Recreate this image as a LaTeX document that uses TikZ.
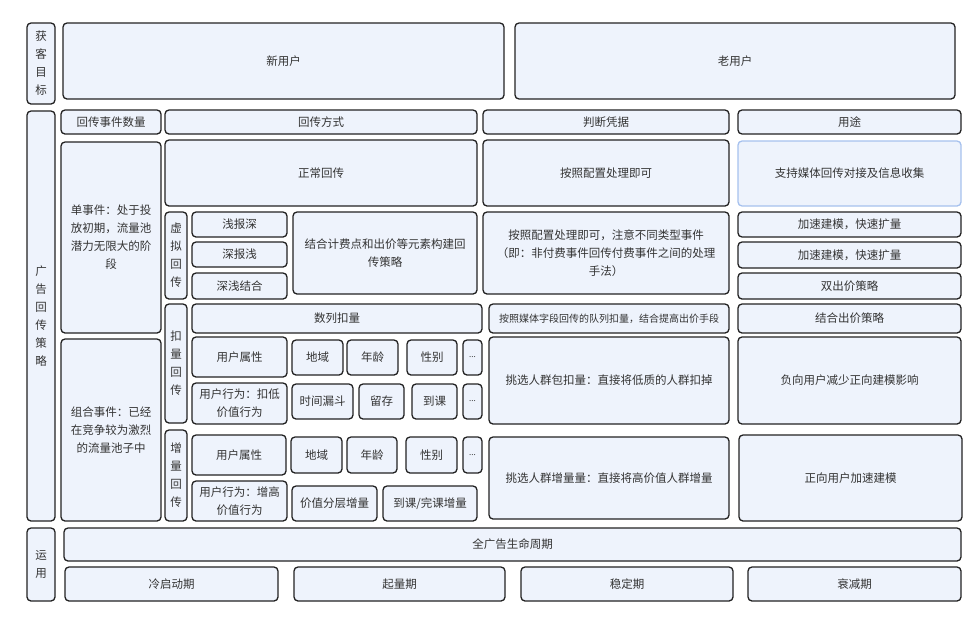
\documentclass[tikz,border=0pt]{standalone}
\usepackage{fontspec}
\setmainfont{Noto Sans CJK SC}
\usepackage{tikz}
\definecolor{adInk}{HTML}{222222}
\definecolor{adFill}{HTML}{EEF3FC}
\definecolor{adText}{HTML}{333333}
\definecolor{adBlue}{HTML}{A6C1EE}
\tikzset{
  every picture/.style={font=\fontsize{11.5}{18}\selectfont, text=adText},
  ad box/.style={draw=adInk, line width=1.3pt, rounded corners=4pt,
    fill=adFill, align=center, inner sep=1pt},
  ad soft/.style={draw=adBlue},
  ad small/.style={font=\fontsize{10}{14}\selectfont},
  ad dots/.style={font=\fontsize{8}{10}\selectfont}
}
% box from (x1,y1) to (x2,y2), in pixels of the page
\newcommand\adcell[7][]{%
  \node[ad box,#1,minimum width={(#5-#3)*1pt},minimum height={(#6-#4)*1pt}]
    (#2) at ({(#3+#5)/2},{(#4+#6)/2}) {#7};}

\begin{document}
\begin{tikzpicture}[x=1pt,y=-1pt]
  \useasboundingbox (0,0) rectangle (975,622);
  % goal
  \adcell{goal}{27}{23}{55}{104}{获\\客\\目\\标}
  \adcell{newuser}{63}{23}{504}{99}{新用户}
  \adcell{olduser}{515}{23}{955}{99}{老用户}
  % strategy
  \adcell{strat}{27}{111}{55}{521}{广\\告\\回\\传\\策\\略}
  \adcell{hcount}{61}{110}{161}{134}{回传事件数量}
  \adcell{hmode}{165}{110}{477}{134}{回传方式}
  \adcell{hbasis}{483}{110}{729}{134}{判断凭据}
  \adcell{huse}{738}{110}{961}{134}{用途}
  \adcell{single}{61}{142}{161}{333}{单事件：处于投\\放初期，流量池\\潜力无限大的阶\\段}
  \adcell{combo}{61}{339}{161}{521}{组合事件：已经\\在竞争较为激烈\\的流量池子中}
  \adcell{normal}{165}{140}{477}{206}{正常回传}
  \adcell{basisA}{483}{140}{729}{206}{按照配置处理即可}
  \adcell[ad soft]{useA}{738}{141}{961}{206}{支持媒体回传对接及信息收集}
  % virtual
  \adcell{virt}{165}{212}{187}{299}{虚\\拟\\回\\传}
  \adcell{virtA}{192}{212}{287}{237}{浅报深}
  \adcell{virtB}{192}{242}{287}{267}{深报浅}
  \adcell{virtC}{192}{273}{287}{299}{深浅结合}
  \adcell{virtplan}{293}{212}{477}{294}{结合计费点和出价等元素构建回\\传策略}
  \adcell{basisB}{483}{212}{729}{294}{按照配置处理即可，注意不同类型事件\\（即：非付费事件回传付费事件之间的处理\\手法）}
  \adcell{useB}{738}{212}{961}{237}{加速建模，快速扩量}
  \adcell{useC}{738}{242}{961}{268}{加速建模，快速扩量}
  \adcell{useD}{738}{273}{961}{299}{双出价策略}
  % deduct
  \adcell{dedu}{165}{304}{187}{423}{扣\\量\\回\\传}
  \adcell{dseq}{192}{304}{482}{333}{数列扣量}
  \adcell[ad small]{basisC}{489}{304}{729}{333}{按照媒体字段回传的队列扣量，结合提高出价手段}
  \adcell{useE}{738}{304}{961}{333}{结合出价策略}
  \adcell{dattr}{192}{337}{287}{377}{用户属性}
  \adcell{dregion}{292}{340}{343}{375}{地域}
  \adcell{dage}{347}{340}{398}{375}{年龄}
  \adcell{dsex}{407}{340}{457}{375}{性别}
  \adcell[ad dots]{dmoreA}{463}{340}{482}{375}{...}
  \adcell{dact}{192}{383}{287}{424}{用户行为：扣低\\价值行为}
  \adcell{dfunnel}{292}{384}{353}{419}{时间漏斗}
  \adcell{dkeep}{359}{384}{404}{419}{留存}
  \adcell{dclass}{412}{384}{457}{419}{到课}
  \adcell[ad dots]{dmoreB}{463}{384}{482}{419}{...}
  \adcell{basisD}{489}{337}{729}{424}{挑选人群包扣量：直接将低质的人群扣掉}
  \adcell{useF}{738}{337}{961}{424}{负向用户减少正向建模影响}
  % increase
  \adcell{incr}{165}{430}{187}{521}{增\\量\\回\\传}
  \adcell{iattr}{192}{435}{286}{475}{用户属性}
  \adcell{iregion}{291}{437}{342}{473}{地域}
  \adcell{iage}{347}{437}{397}{473}{年龄}
  \adcell{isex}{406}{437}{457}{473}{性别}
  \adcell[ad dots]{imore}{463}{437}{482}{473}{...}
  \adcell{iact}{192}{481}{287}{521}{用户行为：增高\\价值行为}
  \adcell{itier}{292}{486}{377}{521}{价值分层增量}
  \adcell{ifinish}{383}{486}{477}{521}{到课/完课增量}
  \adcell{basisE}{489}{437}{729}{519}{挑选人群增量量：直接将高价值人群增量}
  \adcell{useG}{739}{435}{962}{521}{正向用户加速建模}
  % apply
  \adcell{apply}{27}{528}{55}{601}{运\\用}
  \adcell{life}{64}{528}{961}{561}{全广告生命周期}
  \adcell{cold}{65}{567}{278}{601}{冷启动期}
  \adcell{ramp}{294}{567}{505}{601}{起量期}
  \adcell{stable}{521}{567}{733}{601}{稳定期}
  \adcell{decay}{748}{567}{961}{601}{衰减期}
\end{tikzpicture}
\end{document}
